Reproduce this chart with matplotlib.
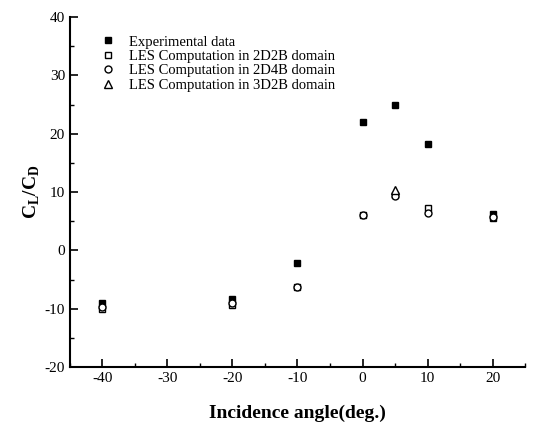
import numpy as np
import matplotlib.pyplot as plt
from matplotlib.ticker import MultipleLocator

plt.rcParams['font.family'] = ['Liberation Serif', 'DejaVu Serif']
plt.rcParams['axes.unicode_minus'] = False

# Donnees
angles = [-40, -20, -10, 0, 5, 10, 20]
exp_data = [-9.0, -8.3, -2.2, 22.0, 25.0, 18.2, 6.3]
les_2d2b = [-10.0, -9.3, -6.3, 6.0, 9.5, 7.2, 5.5]
les_2d4b = [-9.7, -9.0, -6.2, 6.0, 9.3, 6.5, 5.8]
angles_3d = [5]
les_3d2b = [10.3]

fig = plt.figure(figsize=(5.37, 4.24), dpi=100)
ax = fig.add_axes([0.130, 0.134, 0.848, 0.826])

ax.plot(angles, exp_data, 's', color='black', ms=5, label='Experimental data')
ax.plot(angles, les_2d2b, 's', mfc='white', mec='black', ms=5, mew=1.0,
        label='LES Computation in 2D2B domain')
ax.plot(angles, les_2d4b, 'o', mfc='white', mec='black', ms=5, mew=1.0,
        label='LES Computation in 2D4B domain')
ax.plot(angles_3d, les_3d2b, '^', mfc='white', mec='black', ms=6, mew=1.0,
        label='LES Computation in 3D2B domain')

ax.set_xlim(-45, 25)
ax.set_ylim(-20, 40)
ax.xaxis.set_major_locator(MultipleLocator(10))
ax.xaxis.set_minor_locator(MultipleLocator(5))
ax.yaxis.set_major_locator(MultipleLocator(10))
ax.yaxis.set_minor_locator(MultipleLocator(5))
ax.tick_params(which='major', direction='in', length=6, width=1.2, labelsize=11)
ax.tick_params(which='minor', direction='in', length=3, width=1.0)
ax.spines['top'].set_visible(False)
ax.spines['right'].set_visible(False)
ax.spines['left'].set_linewidth(1.5)
ax.spines['bottom'].set_linewidth(1.5)

ax.set_xlabel('Incidence angle(deg.)', fontsize=14, fontweight='bold', labelpad=14)
ax.set_ylabel('C$_\\mathregular{L}$/C$_\\mathregular{D}$', fontsize=14, fontweight='bold', labelpad=2)

ax.legend(loc='upper left', bbox_to_anchor=(0.03, 0.985), frameon=False,
          fontsize=10.5, handletextpad=0.6, handlelength=1.6,
          labelspacing=0.08, markerscale=1.0)

fig.savefig('out.png', dpi=100)
